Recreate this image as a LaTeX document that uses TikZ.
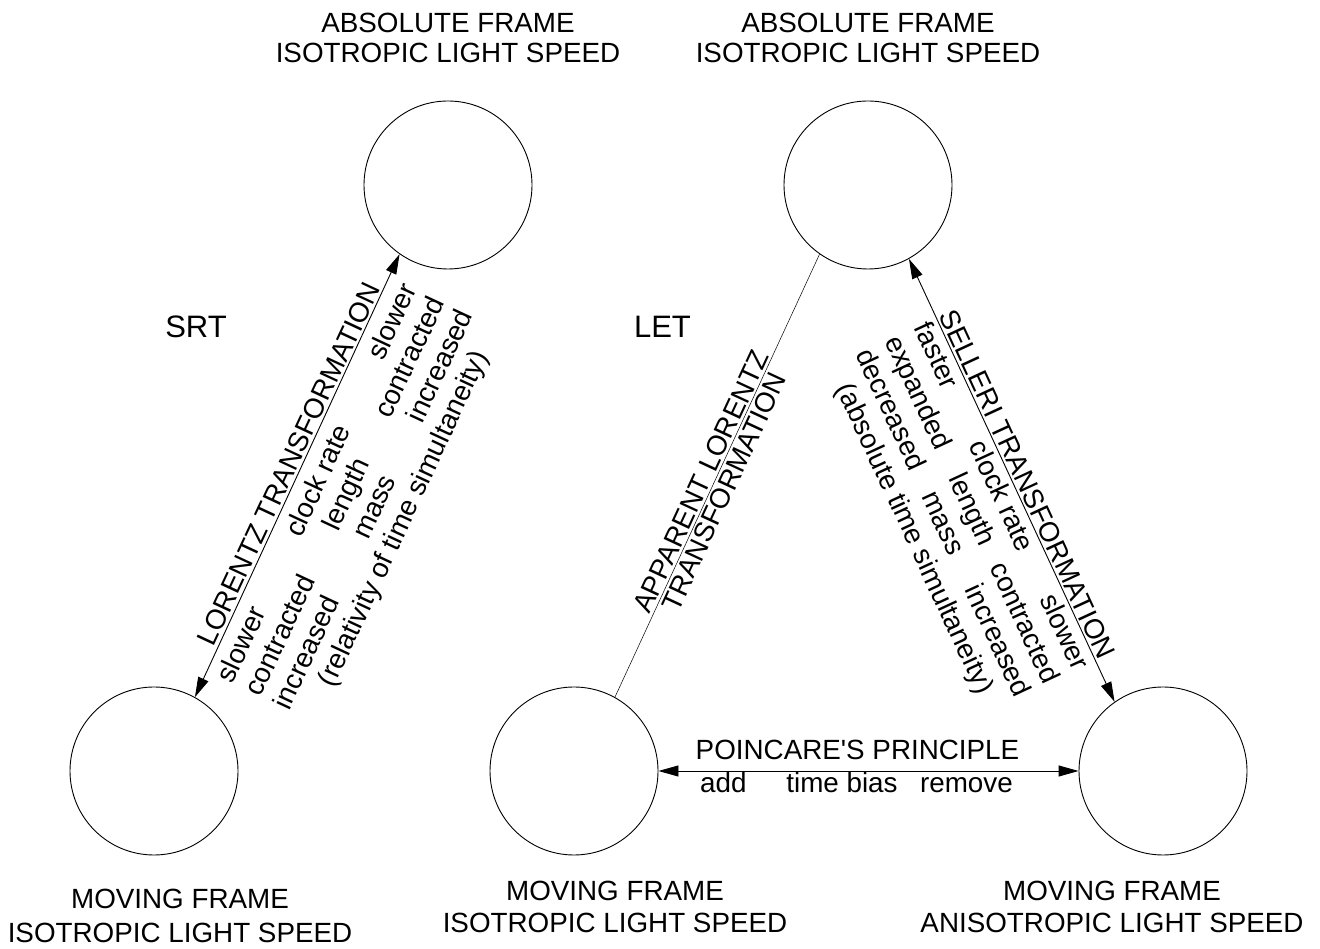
\documentclass[tikz,border=0pt]{standalone}
\usepackage{fontspec}
\setmainfont{Liberation Sans}[Ligatures=TeXOff]
\usetikzlibrary{arrows.meta,calc}
\newcommand\txtstack[2]{\begin{tabular}[t]{@{}#1@{}}#2\end{tabular}}
\begin{document}
\begin{tikzpicture}[x=1pt,y=1pt,
  frame/.style={circle, draw, line width=0.9pt, minimum size=168pt, inner sep=0pt},
  txt/.style={inner sep=0pt, font=\fontsize{27.8}{31}\selectfont},
  big/.style={inner sep=0pt, font=\fontsize{31}{34}\selectfont},
  dblarrow/.style={{Triangle[length=20pt,width=11pt]}-{Triangle[length=20pt,width=11pt]}, line width=0.9pt},
  thinline/.style={line width=0.5pt}]
\fill[white] (0,0) rectangle (1320,948);
\useasboundingbox (0,0) rectangle (1320,948);

% frames
\node[frame] (TL) at (448,763) {};
\node[frame] (TR) at (868,763) {};
\node[frame] (BL) at (154,177) {};
\node[frame] (BM) at (574,177) {};
\node[frame] (BR) at (1163,177) {};

% frame labels
\node[txt, font=\fontsize{27.8}{30}\selectfont, anchor=base] (TLl) at (448,915) {\txtstack{c}{ABSOLUTE FRAME\\ISOTROPIC LIGHT SPEED}};
\node[txt, font=\fontsize{27.8}{30}\selectfont, anchor=base] (TRl) at (868,915) {\txtstack{c}{ABSOLUTE FRAME\\ISOTROPIC LIGHT SPEED}};
\node[txt, font=\fontsize{27.8}{34}\selectfont, anchor=base] (BLl) at (180,39) {\txtstack{c}{MOVING FRAME\\ISOTROPIC LIGHT SPEED}};
\node[txt, font=\fontsize{27.8}{32}\selectfont, anchor=base] (BMl) at (615,48) {\txtstack{c}{MOVING FRAME\\ISOTROPIC LIGHT SPEED}};
\node[txt, font=\fontsize{27.8}{32}\selectfont, anchor=base] (BRl) at (1112,48) {\txtstack{c}{MOVING FRAME\\ANISOTROPIC LIGHT SPEED}};

% theory labels
\node[big, anchor=base] (srt) at (196,610) {SRT};
\node[big, anchor=base] (let) at (662.5,610) {LET};

% connectors
\draw[dblarrow] (BL.61.6) -- (TL.235.4);
\draw[dblarrow] (TR.299.3) -- (BR.125.2);
\draw[thinline] (BM.61) -- (TR.235.6);
\draw[dblarrow] (BM.east) -- (BR.west);

\coordinate (O1) at ($(BL.61.6)!0.5!(TL.235.4)$);
\coordinate (O2) at ($(TR.299.3)!0.5!(BR.125.2)$);
\coordinate (O3) at ($(BM.61)!0.5!(TR.235.6)$);

% Lorentz labels
\begin{scope}[shift={(O1)}, rotate=65.02, transform shape]
  \node[txt, anchor=base] (lt) at (7,3) {LORENTZ TRANSFORMATION};
  \node[txt, anchor=base west] (la) at (-217,-30) {\txtstack{l}{slower\\contracted\\increased}};
  \node[txt, anchor=base] (lb) at (4,-30) {\txtstack{c}{clock rate\\length\\mass}};
  \node[txt, anchor=base east] (lc) at (220,-30) {\txtstack{r}{slower\\contracted\\increased}};
  \node[txt, anchor=base] (ld) at (6,-123) {(relativity of time simultaneity)};
\end{scope}

% Selleri labels
\begin{scope}[shift={(O2)}, rotate=-65.17, transform shape]
  \node[txt, anchor=base] (st) at (10,3) {SELLERI TRANSFORMATION};
  \node[txt, font=\fontsize{27.8}{32}\selectfont, anchor=base west] (sa) at (-180,-25) {\txtstack{l}{faster\\expanded\\decreased}};
  \node[txt, font=\fontsize{27.8}{32}\selectfont, anchor=base] (sb) at (10,-25) {\txtstack{c}{clock rate\\length\\mass}};
  \node[txt, font=\fontsize{27.8}{32}\selectfont, anchor=base east] (sc) at (200,-25) {\txtstack{r}{slower\\contracted\\increased}};
  \node[txt, anchor=base] (sd) at (12,-121) {(absolute time simultaneity)};
\end{scope}

% Apparent Lorentz labels
\begin{scope}[shift={(O3)}, rotate=65.09, transform shape]
  \node[txt, anchor=base] (at1) at (-12,2.5) {APPARENT LORENTZ};
  \node[txt, anchor=base] (at2) at (-12,-22.5) {TRANSFORMATION};
\end{scope}

% Poincare labels
\node[txt, anchor=base] (pp) at (857.5,188) {POINCARE'S PRINCIPLE};
\node[txt, anchor=base west] (padd) at (700,155) {add};
\node[txt, anchor=base] (pbias) at (842,155) {time bias};
\node[txt, anchor=base east] (prem) at (1013,155) {remove};
\end{tikzpicture}
\end{document}
